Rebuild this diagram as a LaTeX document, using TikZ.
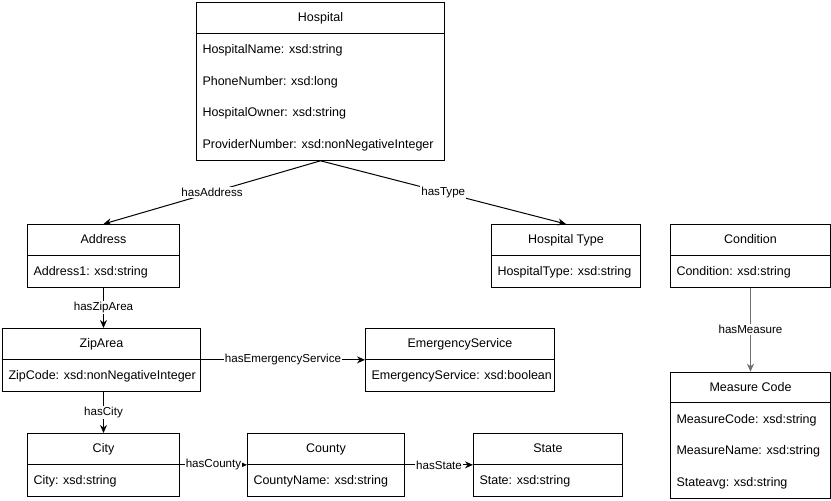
\documentclass[tikz,border=0pt]{standalone}
\usepackage{fontspec}
\setmainfont{Liberation Sans}
\usetikzlibrary{%
	arrows.meta,%
	positioning,%
}
\tikzset{
	>={Stealth[length=8pt,width=7pt]},%
	classnode/.style={%
			draw,%
			rectangle,%
			line width=1pt,%
			inner sep=0,%
			anchor=north west},%
	rel/.style={%
			->,%
			line width=1pt},%
	rellabel/.style={%
			midway,%
			fill=white,%
			text=black,%
			inner sep=1pt,%
			font={\fontsize{11.6}{13}\selectfont}},%
}
\definecolor{cgray}{RGB}{110, 110, 110}
\setlength{\arrayrulewidth}{1pt}
\newcommand{\classhead}[1]{\multicolumn{1}{@{}c@{}}{\rule[-11pt]{0pt}{30pt}#1}}
\newcommand{\attr}[1]{\rule[-11.8pt]{0pt}{31.7pt}#1}

\begin{document}
\begin{tikzpicture}[x=1pt, y=-1pt, font={\fontsize{12.5}{14}\selectfont}]%
	\useasboundingbox (0,0) rectangle (831,501);

	\node[classnode] (hospital) at (196,2) {\begin{tabular}{@{\hspace{6pt}}p{242pt}@{}}
			\classhead{Hospital}                              \\
			\hline
			\attr{HospitalName: xsd:string}                   \\
			\attr{PhoneNumber: xsd:long}                      \\
			\attr{HospitalOwner: xsd:string}                  \\
			\attr{ProviderNumber: xsd:nonNegativeInteger}     \\
		\end{tabular}};

	\node[classnode] (address) at (27,224) {\begin{tabular}{@{\hspace{6pt}}p{146pt}@{}}
			\classhead{Address}                \\
			\hline
			\attr{Address1: xsd:string}        \\
		\end{tabular}};

	\node[classnode] (hosptype) at (491,224) {\begin{tabular}{@{\hspace{6pt}}p{143pt}@{}}
			\classhead{Hospital Type}          \\
			\hline
			\attr{HospitalType: xsd:string}    \\
		\end{tabular}};

	\node[classnode] (condition) at (670,224) {\begin{tabular}{@{\hspace{6pt}}p{154pt}@{}}
			\classhead{Condition}              \\
			\hline
			\attr{Condition: xsd:string}       \\
		\end{tabular}};

	\node[classnode] (measure) [below=84pt of condition] {\begin{tabular}{@{\hspace{6pt}}p{154pt}@{}}
			\classhead{Measure Code}           \\
			\hline
			\attr{MeasureCode: xsd:string}     \\
			\attr{MeasureName: xsd:string}     \\
			\attr{Stateavg: xsd:string}        \\
		\end{tabular}};

	\node[classnode] (ziparea) at (2,328) {\begin{tabular}{@{\hspace{6pt}}p{192pt}@{}}
			\classhead{ZipArea}                           \\
			\hline
			\attr{ZipCode: xsd:nonNegativeInteger}        \\
		\end{tabular}};

	\node[classnode] (emergency) [right=164pt of ziparea] {\begin{tabular}{@{\hspace{6pt}}p{183pt}@{}}
			\classhead{EmergencyService}                  \\
			\hline
			\attr{EmergencyService: xsd:boolean}          \\
		\end{tabular}};

	\node[classnode] (city) at (27,433) {\begin{tabular}{@{\hspace{6pt}}p{146pt}@{}}
			\classhead{City}                   \\
			\hline
			\attr{City: xsd:string}            \\
		\end{tabular}};

	\node[classnode] (county) [right=67pt of city] {\begin{tabular}{@{\hspace{6pt}}p{151pt}@{}}
			\classhead{County}                 \\
			\hline
			\attr{CountyName: xsd:string}      \\
		\end{tabular}};

	\node[classnode] (state) [right=68pt of county] {\begin{tabular}{@{\hspace{6pt}}p{143pt}@{}}
			\classhead{State}                  \\
			\hline
			\attr{State: xsd:string}           \\
		\end{tabular}};

	\draw[rel] (hospital.south) -- node[rellabel] {hasAddress} (address.north);
	\draw[rel] (hospital.south) -- node[rellabel] {hasType} (hosptype.north);
	\draw[rel] (address.south) -- node[rellabel] {hasZipArea} (address.south |- ziparea.north);
	\draw[rel] (ziparea.east) -- node[rellabel] {hasEmergencyService} (emergency.west);
	\draw[rel] (city.north |- ziparea.south) -- node[rellabel] {hasCity} (city.north);
	\draw[rel] (city.east) -- node[rellabel] {hasCounty} (county.west);
	\draw[rel] (county.east) -- node[rellabel] {hasState} (state.west);
	\draw[rel, cgray] (condition.south) -- node[rellabel] {hasMeasure} (measure.north);
\end{tikzpicture}
\end{document}
